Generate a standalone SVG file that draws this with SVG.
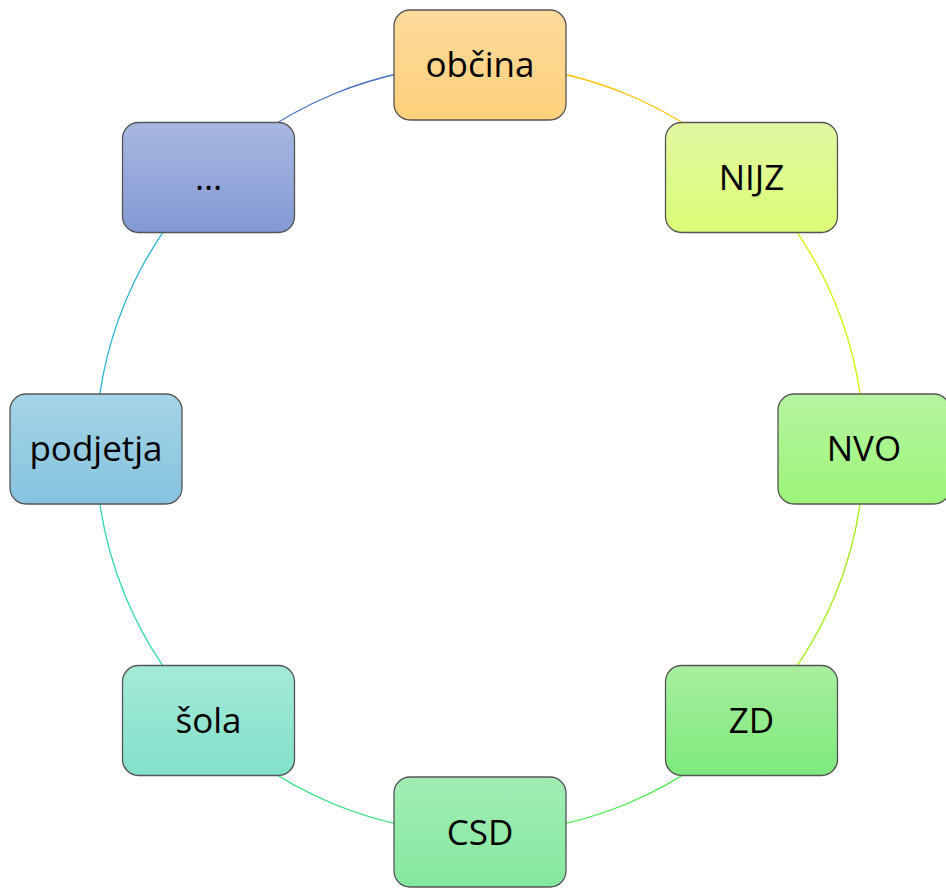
<svg xmlns="http://www.w3.org/2000/svg" width="946" height="888" viewBox="0 0 946 888">
<defs>
<linearGradient id="g1" x1="0" y1="0" x2="0" y2="1"><stop offset="0" stop-color="#FDDA9C"/><stop offset="1" stop-color="#FDD07B"/></linearGradient>
<linearGradient id="g2" x1="0" y1="0" x2="0" y2="1"><stop offset="0" stop-color="#E2F8A2"/><stop offset="1" stop-color="#DBFC77"/></linearGradient>
<linearGradient id="g3" x1="0" y1="0" x2="0" y2="1"><stop offset="0" stop-color="#B6F4A0"/><stop offset="1" stop-color="#9CF57A"/></linearGradient>
<linearGradient id="g4" x1="0" y1="0" x2="0" y2="1"><stop offset="0" stop-color="#A8EE9E"/><stop offset="1" stop-color="#7DEA7C"/></linearGradient>
<linearGradient id="g5" x1="0" y1="0" x2="0" y2="1"><stop offset="0" stop-color="#A2EEB5"/><stop offset="1" stop-color="#84E89F"/></linearGradient>
<linearGradient id="g6" x1="0" y1="0" x2="0" y2="1"><stop offset="0" stop-color="#A4E9D7"/><stop offset="1" stop-color="#82E1CA"/></linearGradient>
<linearGradient id="g7" x1="0" y1="0" x2="0" y2="1"><stop offset="0" stop-color="#A6D4E5"/><stop offset="1" stop-color="#84C3DF"/></linearGradient>
<linearGradient id="g8" x1="0" y1="0" x2="0" y2="1"><stop offset="0" stop-color="#A8B7E1"/><stop offset="1" stop-color="#8499D5"/></linearGradient>
</defs>
<style>
.box{stroke:#555555;stroke-width:1.3}
.lbl{font-family:"Open Sans","Liberation Sans",sans-serif;font-size:35px;fill:#000;text-anchor:middle}
.arc{fill:none;stroke-width:1.3}
</style>
<g id="connectors">
<path class="arc" stroke="#FFC000" d="M480 65 A384 384 0 0 1 751.5 177.5"/>
<path class="arc" stroke="#D6F000" d="M751.5 177.5 A384 384 0 0 1 864 449"/>
<path class="arc" stroke="#9EEF10" d="M864 449 A384 384 0 0 1 751.5 720.5"/>
<path class="arc" stroke="#3EEE40" d="M751.5 720.5 A384 384 0 0 1 480 833"/>
<path class="arc" stroke="#2EE07A" d="M480 833 A384 384 0 0 1 208.5 720.5"/>
<path class="arc" stroke="#30D8B4" d="M208.5 720.5 A384 384 0 0 1 96 449"/>
<path class="arc" stroke="#2FB4D4" d="M96 449 A384 384 0 0 1 208.5 177.5"/>
<path class="arc" stroke="#4472C4" d="M208.5 177.5 A384 384 0 0 1 480 65"/>
</g>
<g id="n1"><rect class="box" x="394" y="10" width="172" height="110" rx="16" fill="url(#g1)"/><text class="lbl" x="480" y="77">občina</text></g>
<g id="n2"><rect class="box" x="665.5" y="122.5" width="172" height="110" rx="16" fill="url(#g2)"/><text class="lbl" x="751.5" y="189.5">NIJZ</text></g>
<g id="n3"><rect class="box" x="778" y="394" width="172" height="110" rx="16" fill="url(#g3)"/><text class="lbl" x="864" y="461">NVO</text></g>
<g id="n4"><rect class="box" x="665.5" y="665.5" width="172" height="110" rx="16" fill="url(#g4)"/><text class="lbl" x="751.5" y="732.5">ZD</text></g>
<g id="n5"><rect class="box" x="394" y="777" width="172" height="110" rx="16" fill="url(#g5)"/><text class="lbl" x="480" y="845">CSD</text></g>
<g id="n6"><rect class="box" x="122.5" y="665.5" width="172" height="110" rx="16" fill="url(#g6)"/><text class="lbl" x="208.5" y="732.5">šola</text></g>
<g id="n7"><rect class="box" x="10" y="394" width="172" height="110" rx="16" fill="url(#g7)"/><text class="lbl" x="96" y="461">podjetja</text></g>
<g id="n8"><rect class="box" x="122.5" y="122.5" width="172" height="110" rx="16" fill="url(#g8)"/><text class="lbl" x="208.5" y="189.5">…</text></g>
</svg>
